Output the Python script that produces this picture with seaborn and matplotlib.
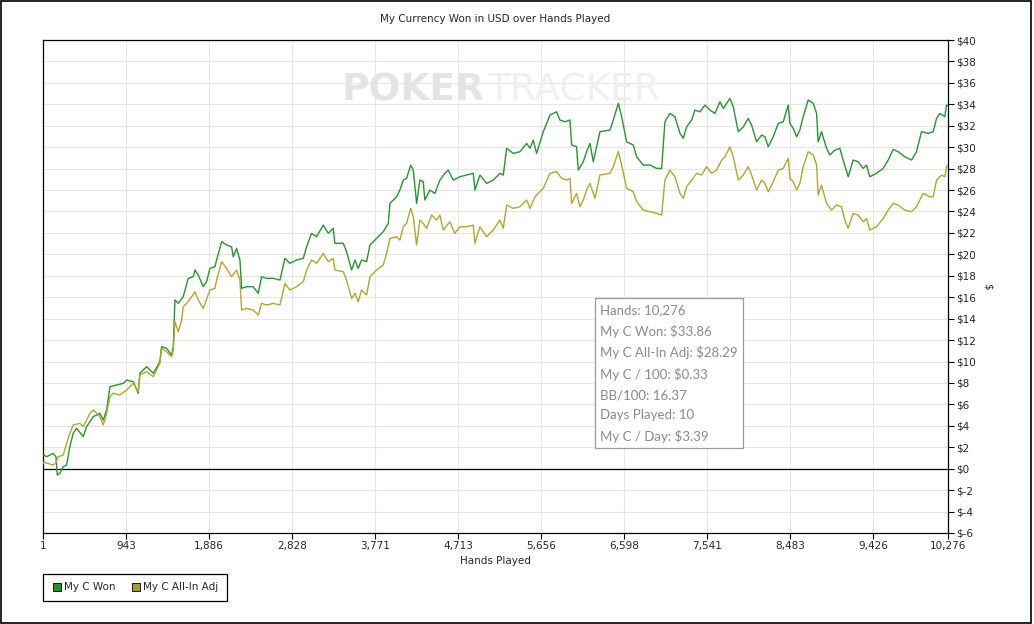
import matplotlib.pyplot as plt
import matplotlib.ticker as mticker
import pandas as pd
import seaborn as sns
from matplotlib.lines import Line2D
from matplotlib.patches import Rectangle

# hands played / running total in USD
won_hands = [1, 11, 42, 117, 148, 163, 193, 231, 269, 306, 344, 382, 458, 496, 571, 647, 685, 723, 761, 836,
             912, 950, 1026, 1082, 1101, 1177, 1253, 1328, 1347, 1404, 1461, 1480, 1499, 1537, 1593, 1650, 1707,
             1726, 1764, 1820, 1858, 1896, 1953, 1972, 2029, 2085, 2142, 2161, 2199, 2237, 2256, 2312, 2388, 2445,
             2483, 2540, 2615, 2691, 2748, 2804, 2880, 2956, 2994, 3050, 3107, 3183, 3240, 3296, 3315, 3410, 3448,
             3505, 3543, 3580, 3618, 3675, 3713, 3788, 3864, 3921, 3940, 4016, 4053, 4091, 4129, 4175, 4205, 4243,
             4280, 4318, 4337, 4394, 4451, 4507, 4564, 4602, 4659, 4734, 4810, 4886, 4905, 4962, 5037, 5113, 5189,
             5227, 5265, 5340, 5416, 5492, 5530, 5567, 5605, 5681, 5757, 5832, 5870, 5927, 5984, 6003, 6059, 6078,
             6135, 6173, 6211, 6249, 6324, 6438, 6476, 6533, 6571, 6627, 6703, 6741, 6816, 6892, 6968, 7025, 7062,
             7119, 7176, 7233, 7271, 7309, 7365, 7403, 7460, 7517, 7573, 7630, 7687, 7725, 7800, 7838, 7895, 7952,
             8008, 8046, 8103, 8160, 8197, 8235, 8292, 8349, 8405, 8462, 8481, 8519, 8557, 8594, 8632, 8689, 8746,
             8784, 8802, 8840, 8897, 8935, 8992, 9048, 9086, 9143, 9199, 9256, 9313, 9351, 9389, 9464, 9540, 9597,
             9654, 9710, 9786, 9862, 9918, 9975, 10051, 10108, 10146, 10184, 10240, 10259, 10276]
won_usd = [1.3, 1.28, 1.12, 1.43, 1.12, -0.59, -0.43, 0.19, 0.34, 2.05, 3.30, 3.77, 2.99, 3.92, 4.85, 5.17, 4.54,
           5.48, 7.65, 7.81, 7.96, 8.27, 8.12, 7.03, 8.9, 9.52, 8.9, 9.98, 11.38, 11.23, 10.6, 11.38, 15.74, 15.43,
           16.05, 17.76, 17.91, 18.54, 18.07, 16.98, 17.44, 18.69, 18.84, 19.47, 21.18, 20.87, 20.71, 19.78, 20.56,
           19.47, 16.83, 16.98, 16.98, 16.36, 17.91, 17.76, 17.76, 17.6, 19.63, 19.16, 19.47, 19.63, 20.71, 21.96,
           21.64, 22.73, 21.96, 22.43, 21.03, 21.03, 20.24, 18.54, 19.47, 18.69, 19.47, 19.31, 20.87, 21.49, 22.11,
           22.89, 24.76, 25.37, 26.0, 26.93, 27.09, 28.33, 27.86, 24.76, 26.93, 26.77, 25.07, 26.0, 25.69, 26.93,
           27.56, 27.86, 26.93, 27.24, 27.4, 27.56, 26.0, 27.4, 26.62, 26.93, 27.56, 27.4, 29.89, 29.42, 29.58,
           30.35, 29.89, 30.66, 29.42, 31.44, 32.99, 33.3, 32.53, 32.37, 32.53, 30.2, 30.04, 27.86, 28.64, 29.58,
           30.35, 28.64, 31.44, 31.6, 32.53, 34.09, 32.84, 30.5, 30.2, 29.1, 28.33, 28.33, 28.02, 28.02, 32.37,
           33.15, 32.84, 31.29, 30.83, 31.9, 32.53, 33.46, 33.3, 33.93, 33.46, 33.15, 34.24, 33.62, 34.55, 33.77,
           31.44, 31.9, 32.68, 32.06, 30.5, 31.13, 30.97, 30.04, 30.97, 32.22, 32.37, 33.93, 32.22, 31.75, 30.97,
           31.6, 32.84, 34.4, 34.09, 33.15, 30.5, 31.44, 29.89, 29.27, 29.73, 29.89, 28.8, 27.24, 28.8, 28.64,
           28.02, 28.33, 27.24, 27.56, 28.02, 28.8, 29.79, 29.58, 29.1, 28.8, 29.58, 31.44, 31.29, 31.44, 32.68,
           33.15, 32.84, 33.93, 33.86]

adj_hands = [1, 11, 117, 148, 174, 231, 269, 306, 344, 420, 458, 534, 571, 647, 685, 723, 761, 798, 874, 950,
             1026, 1082, 1101, 1177, 1253, 1328, 1347, 1404, 1461, 1480, 1499, 1537, 1575, 1593, 1650, 1726, 1764,
             1820, 1896, 1953, 1972, 2029, 2085, 2142, 2199, 2237, 2256, 2312, 2388, 2445, 2483, 2540, 2615, 2691,
             2748, 2804, 2880, 2956, 2994, 3050, 3107, 3183, 3240, 3296, 3315, 3410, 3448, 3505, 3543, 3580, 3618,
             3675, 3713, 3788, 3864, 3902, 3940, 4016, 4053, 4091, 4129, 4175, 4205, 4243, 4280, 4318, 4356, 4413,
             4469, 4507, 4545, 4621, 4677, 4734, 4810, 4886, 4905, 4962, 5037, 5113, 5189, 5227, 5265, 5340, 5416,
             5492, 5530, 5586, 5681, 5757, 5832, 5889, 5946, 5984, 6003, 6059, 6097, 6135, 6173, 6211, 6268, 6324,
             6438, 6476, 6533, 6571, 6627, 6703, 6741, 6816, 6892, 6968, 7025, 7062, 7119, 7176, 7233, 7271, 7309,
             7365, 7422, 7479, 7535, 7592, 7649, 7706, 7744, 7800, 7838, 7895, 7952, 8008, 8046, 8103, 8160, 8197,
             8235, 8292, 8349, 8405, 8462, 8481, 8519, 8557, 8594, 8632, 8689, 8746, 8784, 8802, 8840, 8897, 8954,
             9010, 9067, 9105, 9143, 9199, 9256, 9313, 9351, 9389, 9464, 9540, 9597, 9654, 9710, 9786, 9862, 9918,
             9994, 10070, 10108, 10146, 10203, 10240, 10259, 10276]
adj_usd = [0.5, 0.6, 0.34, 0.6, 1.12, 1.28, 2.37, 3.30, 4.08, 4.23, 3.92, 5.17, 5.48, 4.85, 4.08, 5.17, 6.72,
           7.03, 6.88, 7.34, 7.96, 7.19, 8.74, 9.05, 8.58, 9.83, 11.23, 10.92, 10.45, 11.07, 13.71, 12.78, 13.87,
           15.11, 15.58, 16.51, 15.74, 14.96, 16.67, 16.83, 17.6, 19.31, 18.69, 17.91, 18.54, 17.6, 14.8, 14.96,
           14.8, 14.34, 15.43, 15.27, 15.43, 15.27, 17.29, 16.67, 16.98, 17.44, 18.54, 19.47, 19.16, 20.09, 19.31,
           19.63, 18.54, 18.38, 17.6, 15.89, 16.36, 15.58, 16.67, 16.2, 17.91, 18.54, 19.0, 20.09, 21.49, 21.64,
           21.33, 22.57, 22.89, 24.29, 23.5, 20.87, 23.2, 22.89, 22.43, 23.67, 23.2, 23.67, 22.27, 23.04, 21.96,
           22.57, 22.57, 22.73, 21.03, 22.57, 21.64, 22.27, 23.2, 22.43, 24.6, 24.29, 24.44, 25.07, 24.29, 25.37,
           26.16, 27.56, 27.71, 27.09, 26.93, 27.09, 24.76, 25.69, 24.44, 25.07, 26.0, 26.62, 25.22, 27.4, 27.56,
           28.18, 29.58, 28.33, 26.16, 25.84, 24.91, 24.13, 23.98, 23.82, 23.67, 26.93, 27.86, 27.24, 25.69, 25.22,
           26.31, 26.93, 27.56, 27.4, 28.18, 27.56, 27.86, 28.8, 29.1, 30.04, 29.1, 26.93, 27.4, 28.18, 27.4, 26.0,
           26.93, 26.62, 25.84, 26.77, 27.86, 28.02, 28.95, 27.09, 26.77, 26.0, 26.62, 28.18, 29.58, 29.27, 28.33,
           25.53, 26.46, 24.76, 24.13, 24.6, 24.44, 23.2, 22.43, 23.82, 23.67, 23.04, 23.35, 22.27, 22.57, 23.35,
           24.13, 24.76, 24.6, 24.13, 23.98, 24.44, 25.69, 25.37, 25.37, 26.93, 27.4, 27.24, 28.18, 28.29]

series_names = ["My C Won", "My C All-In Adj"]
x_ticks = [1, 943, 1886, 2828, 3771, 4713, 5656, 6598, 7541, 8483, 9426, 10276]
stats_lines = ["Hands: 10,276", "My C Won: $33.86", "My C All-In Adj: $28.29", "My C / 100: $0.33",
               "BB/100: 16.37", "Days Played: 10", "My C / Day: $3.39"]

colors = {"My C Won": "#23972f", "My C All-In Adj": "#b0a82c"}

df = pd.concat([
    pd.DataFrame({"hands": won_hands, "usd": won_usd, "series": series_names[0]}),
    pd.DataFrame({"hands": adj_hands, "usd": adj_usd, "series": series_names[1]}),
])

sns.set_theme(style="whitegrid")
plt.rcParams["font.family"] = ["DejaVu Sans"]

fig = plt.figure(figsize=(10.34, 6.24), dpi=100)
ax = fig.add_axes([43 / 1034, 1 - 533 / 624, 905 / 1034, 493 / 624])

sns.lineplot(data=df, x="hands", y="usd", hue="series", palette=colors, estimator=None,
             linewidth=1.0, legend=False, ax=ax, zorder=3)

ax.axhline(0, color="black", linewidth=0.9, zorder=2)

ax.set_xlim(1, 10276)
ax.set_ylim(-6, 40)
ax.set_xticks(x_ticks)
ax.xaxis.set_major_formatter(mticker.FuncFormatter(lambda v, p: f"{int(v):,}"))
ax.set_yticks(range(-6, 41, 2))
ax.yaxis.set_major_formatter(mticker.FuncFormatter(lambda v, p: f"${int(v)}"))
ax.yaxis.tick_right()
ax.yaxis.set_label_position("right")
ax.tick_params(axis="both", which="major", length=4, width=0.8, color="black", labelsize=7.5,
               direction="out", pad=2)
ax.tick_params(axis="y", left=False, right=True)
ax.tick_params(axis="x", bottom=True)
ax.grid(True, color="#e6e6e6", linewidth=0.8)
for s in ax.spines.values():
    s.set_color("black")
    s.set_linewidth(0.9)

ax.set_xlabel("Hands Played", fontsize=7.5, labelpad=3)
ax.set_ylabel("$", fontsize=7.5, rotation=270, labelpad=12)
ax.set_title("My Currency Won in USD over Hands Played", fontsize=7.5, pad=13)

# watermark
ax.text(0.488, 0.897, "POKER", transform=ax.transAxes, ha="right", va="center", fontsize=27,
        fontweight="bold", color="#e4e4e4", zorder=1)
ax.text(0.491, 0.897, "TRACKER", transform=ax.transAxes, ha="left", va="center", fontsize=27,
        color="#efefef", zorder=1)

# stats box
ax.text(0.616, 0.465, "\n".join(stats_lines), transform=ax.transAxes, ha="left", va="top",
        fontsize=9.5, family="Lato", color="#8a8a8a", linespacing=1.8, zorder=5,
        bbox=dict(boxstyle="square,pad=0.4", facecolor="white", edgecolor="#9a9a9a", linewidth=0.9))

handles = [Line2D([], [], linestyle="none", marker="s", markersize=6, markerfacecolor=c,
                  markeredgecolor="black", markeredgewidth=0.6)
           for c in ["#1a9a1a", "#a0a028"]]
leg = fig.legend(handles, series_names, loc="upper left", bbox_to_anchor=(43 / 1034, 1 - 574 / 624),
                 ncol=2, fontsize=7.5, frameon=True, fancybox=False, framealpha=1,
                 edgecolor="black", handletextpad=0.2, columnspacing=1.5, borderpad=0.8,
                 handlelength=1.0, borderaxespad=0)
leg.get_frame().set_linewidth(0.9)

fig.patches.append(Rectangle((0.001, 0.002), 0.996, 0.997, transform=fig.transFigure, fill=False,
                             edgecolor="black", linewidth=1.2))

fig.savefig("out.png", dpi=100)
